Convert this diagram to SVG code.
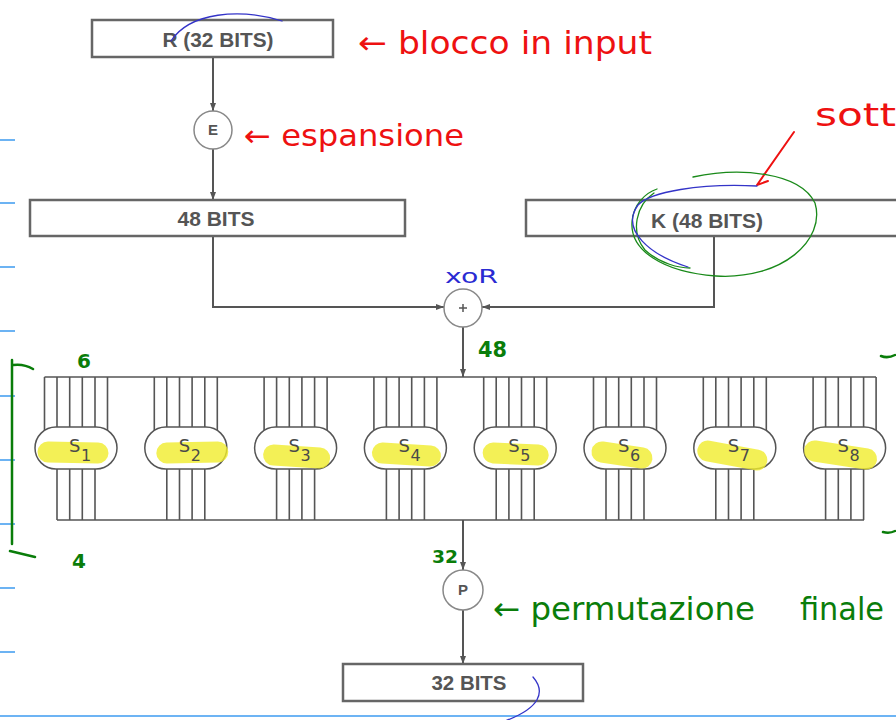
<svg xmlns="http://www.w3.org/2000/svg" xmlns:xlink="http://www.w3.org/1999/xlink" width="896" height="720" viewBox="0 0 896 720">
  <style>
    .box { fill: #fff; stroke: #666; stroke-width: 2.5; }
    .circ { fill: #fff; stroke: #888; stroke-width: 1.5; }
    .lbl { font-family: "Liberation Sans", Arial, sans-serif; font-weight: bold; font-size: 20px; fill: #555; text-anchor: middle; }
    .op { font-family: "Liberation Sans", Arial, sans-serif; font-weight: bold; font-size: 15px; fill: #555; text-anchor: middle; }
    .wire { fill: none; stroke: #555; stroke-width: 2; }
    .bus { fill: none; stroke: #555; stroke-width: 1.6; }
    .sb { fill: #fff; stroke: #555; stroke-width: 1.5; }
    .hl { fill: none; stroke: #f0ec2c; stroke-opacity: 0.8; stroke-width: 21; stroke-linecap: round; }
    .sn { font-family: "DejaVu Sans", sans-serif; font-size: 18px; fill: #4a4a4a; }
    .ss { font-family: "DejaVu Sans", sans-serif; font-size: 16px; fill: #4a4a4a; }
    .rule { stroke: #3d9bf0; stroke-width: 1.5; }
    .red { font-family: "DejaVu Sans", sans-serif; fill: #ee1111; }
    .grn { font-family: "DejaVu Sans", sans-serif; fill: #0a7d0a; }
    .blu { font-family: "DejaVu Sans", sans-serif; fill: #2a2ad2; }
    .inkR { fill: none; stroke: #ee1111; stroke-width: 2; stroke-linecap: round; stroke-linejoin: round; }
    .inkG { fill: none; stroke: #0a7d0a; stroke-width: 2.5; stroke-linecap: round; }
    .inkG1 { fill: none; stroke: #1a8a1a; stroke-width: 1.3; stroke-linecap: round; }
    .inkB { fill: none; stroke: #3434c8; stroke-width: 1.3; stroke-linecap: round; }
  </style>
  <defs>
    <marker id="arr" viewBox="0 0 8 6" refX="8" refY="3" markerWidth="8" markerHeight="6" markerUnits="userSpaceOnUse" orient="auto">
      <path d="M0,0 L8,3 L0,6 z" fill="#555"/>
    </marker>
    <!-- one S-box: six input lines, four output lines and the rounded body -->
    <g id="sbox-shape">
      <path class="bus" d="M-31.5,377 V434 M-19,377 V430 M-6.3,377 V430 M6.3,377 V430 M19,377 V430 M31.5,377 V434"/>
      <path class="bus" d="M-19,466 V520 M-6.3,466 V520 M6.3,466 V520 M19,466 V520"/>
      <rect class="sb" x="-41" y="427" width="82" height="42" rx="21"/>
    </g>
  </defs>

  <rect width="896" height="720" fill="#fff"/>

  <!-- notebook ruling -->
  <g id="ruling">
    <path class="rule" d="M0,140 H15 M0,203 H15 M0,267 H15 M0,331 H15 M0,396 H15 M0,460 H15 M0,524 H15 M0,588 H15 M0,652 H15"/>
    <path class="rule" d="M0,716 H896" stroke-width="2"/>
  </g>

  <!-- connectors -->
  <g id="connectors">
    <path class="wire" d="M213,57 V111" marker-end="url(#arr)"/>
    <path class="wire" d="M213,149 V200" marker-end="url(#arr)"/>
    <path class="wire" d="M213,236 V307 H444" marker-end="url(#arr)"/>
    <path class="wire" d="M714,236 V307 H482" marker-end="url(#arr)"/>
    <path class="wire" d="M463,327 V377" marker-end="url(#arr)"/>
    <path class="wire" d="M463,520 V570" marker-end="url(#arr)"/>
    <path class="wire" d="M463,610 V664" marker-end="url(#arr)"/>
    <path class="bus" d="M44.5,377 H876"/>
    <path class="bus" d="M57,520 H864"/>
  </g>

  <g id="r-block">
    <rect class="box" x="92" y="20" width="241" height="37"/>
    <text class="lbl" x="218" y="47" textLength="111" lengthAdjust="spacingAndGlyphs">R (32 BITS)</text>
  </g>

  <g id="expansion">
    <circle class="circ" cx="213" cy="130" r="19"/>
    <text class="op" x="213" y="135">E</text>
  </g>

  <g id="expanded-block">
    <rect class="box" x="30" y="200" width="375" height="36"/>
    <text class="lbl" x="216" y="226" textLength="77" lengthAdjust="spacingAndGlyphs">48 BITS</text>
  </g>

  <g id="key-block">
    <rect class="box" x="526" y="200" width="400" height="36"/>
    <text class="lbl" x="707" y="228" textLength="112" lengthAdjust="spacingAndGlyphs">K (48 BITS)</text>
  </g>

  <g id="xor">
    <circle class="circ" cx="463" cy="308" r="19"/>
    <path d="M459,308 H467 M463,304 V312" stroke="#555" stroke-width="1.5"/>
  </g>

  <!-- substitution boxes -->
  <g id="sboxes">
    <g id="s1" transform="translate(76,0)">
      <use xlink:href="#sbox-shape"/>
      <path class="hl" d="M-28,452 L22,453"/>
      <text class="sn" x="-7" y="452">S</text><text class="ss" x="5" y="461">1</text>
    </g>
    <g id="s2" transform="translate(185.8,0)">
      <use xlink:href="#sbox-shape"/>
      <path class="hl" d="M-19,453 L32,452"/>
      <text class="sn" x="-7" y="452">S</text><text class="ss" x="5" y="461">2</text>
    </g>
    <g id="s3" transform="translate(295.6,0)">
      <use xlink:href="#sbox-shape"/>
      <path class="hl" d="M-22,455 L24,458"/>
      <text class="sn" x="-7" y="452">S</text><text class="ss" x="5" y="461">3</text>
    </g>
    <g id="s4" transform="translate(405.4,0)">
      <use xlink:href="#sbox-shape"/>
      <path class="hl" d="M-23,453 L25,456"/>
      <text class="sn" x="-7" y="452">S</text><text class="ss" x="5" y="461">4</text>
    </g>
    <g id="s5" transform="translate(515.2,0)">
      <use xlink:href="#sbox-shape"/>
      <path class="hl" d="M-22,453 L23,455"/>
      <text class="sn" x="-7" y="452">S</text><text class="ss" x="5" y="461">5</text>
    </g>
    <g id="s6" transform="translate(625,0)">
      <use xlink:href="#sbox-shape"/>
      <path class="hl" d="M-23,452 L17,458"/>
      <text class="sn" x="-7" y="452">S</text><text class="ss" x="5" y="461">6</text>
    </g>
    <g id="s7" transform="translate(734.8,0)">
      <use xlink:href="#sbox-shape"/>
      <path class="hl" d="M-27,451 L22,460"/>
      <text class="sn" x="-7" y="452">S</text><text class="ss" x="5" y="461">7</text>
    </g>
    <g id="s8" transform="translate(844.6,0)">
      <use xlink:href="#sbox-shape"/>
      <path class="hl" d="M-30,451 L22,459"/>
      <text class="sn" x="-7" y="452">S</text><text class="ss" x="5" y="461">8</text>
    </g>
  </g>

  <g id="permutation">
    <circle class="circ" cx="463" cy="590" r="20"/>
    <text class="op" x="463" y="595">P</text>
  </g>

  <g id="output-block">
    <rect class="box" x="343" y="664" width="240" height="37"/>
    <text class="lbl" x="469" y="690" textLength="75" lengthAdjust="spacingAndGlyphs">32 BITS</text>
  </g>

  <!-- handwritten notes -->
  <g id="notes">
    <text class="red" x="358" y="54" font-size="32" textLength="294" lengthAdjust="spacingAndGlyphs">← blocco in input</text>
    <text class="red" x="244" y="146" font-size="30" textLength="220" lengthAdjust="spacingAndGlyphs">← espansione</text>
    <text class="red" x="815" y="126" font-size="32" textLength="81" lengthAdjust="spacingAndGlyphs">sott</text>
    <path class="inkR" d="M794,132 L757,185 L768,181"/>

    <path class="inkG1" d="M693,177 C740,167 800,172 815,203 C826,240 782,280 716,276 C662,272 630,250 632,222 C633,205 645,193 657,189"/>
    <path class="inkG1" d="M654,193 C636,205 630,232 645,250 C660,264 680,268 690,268"/>
    <path class="inkB" d="M688,267 C650,255 620,230 638,205 C650,192 700,183 757,186"/>
    <path class="inkB" d="M171,41 C190,12 240,8 282,21"/>
    <path class="inkB" d="M533,677 C546,692 540,708 505,721"/>

    <text class="blu" x="445" y="283" font-size="20" textLength="53" lengthAdjust="spacingAndGlyphs">xoR</text>
    <text class="grn" x="478" y="357" font-size="22" font-weight="bold" textLength="29" lengthAdjust="spacingAndGlyphs">48</text>
    <text class="grn" x="77" y="368" font-size="20" font-weight="bold">6</text>
    <text class="grn" x="72" y="568" font-size="20" font-weight="bold">4</text>
    <text class="grn" x="432" y="563" font-size="18" font-weight="bold" textLength="26" lengthAdjust="spacingAndGlyphs">32</text>
    <text class="grn" x="493" y="620" font-size="32" textLength="262" lengthAdjust="spacingAndGlyphs">← permutazione</text>
    <text class="grn" x="800" y="620" font-size="32" textLength="84" lengthAdjust="spacingAndGlyphs">finale</text>

    <path class="inkG" d="M12,360 V544 M13,365 C20,364 28,366 33,369 M10,551 C18,553 27,555 35,557"/>
    <path class="inkG" d="M881,356 C886,358 891,357 895,355 M883,532 C887,533 891,533 895,531"/>
  </g>
</svg>
